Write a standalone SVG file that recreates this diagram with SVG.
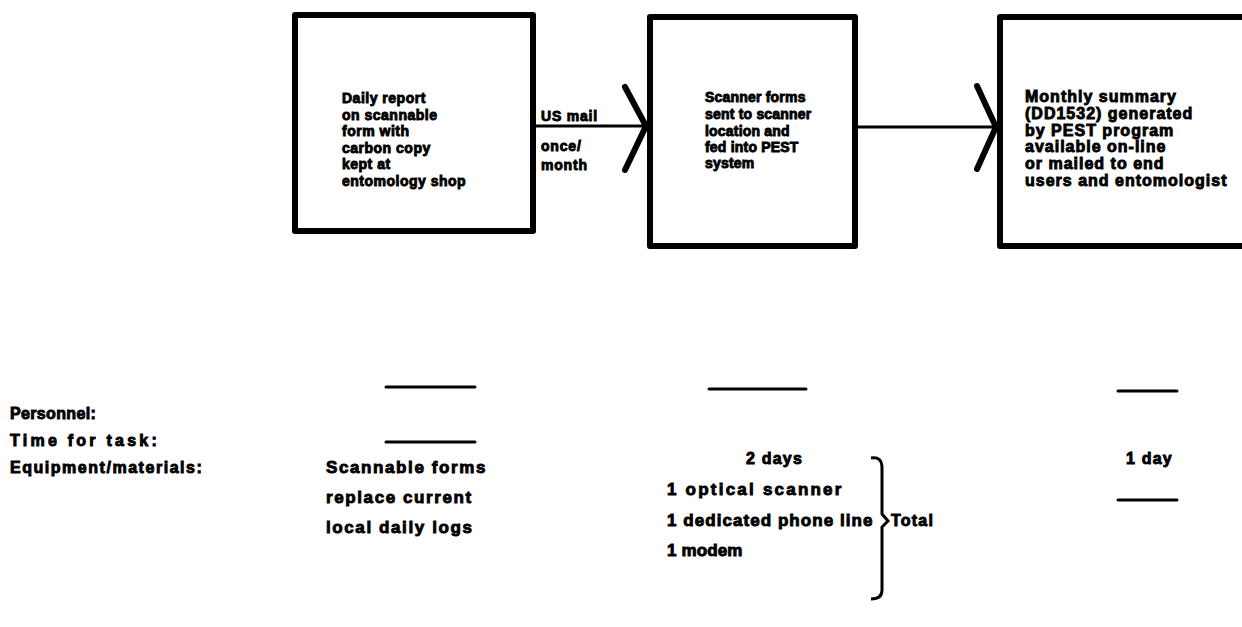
<svg xmlns="http://www.w3.org/2000/svg" width="1242" height="627" viewBox="0 0 1242 627">
<style>
.box{fill:#fff;stroke:#000;stroke-width:6;stroke-linejoin:round}
.t{font-family:"Liberation Sans",Arial,sans-serif;font-weight:bold;fill:#000;stroke:#000;stroke-width:0.9}
.b1{font-size:14px;letter-spacing:0.5px}
.b2{font-size:14px;letter-spacing:0.2px}
.b3{font-size:16px;letter-spacing:1px}
.lb{font-size:14px;letter-spacing:0.8px}
.bt{font-size:16px;letter-spacing:1.2px}
.bc{font-size:17px;letter-spacing:1.6px}
.line{stroke:#000;stroke-width:3;fill:none}
.chev{stroke:#000;stroke-width:6;fill:none;stroke-linecap:round;stroke-linejoin:miter}
.dash{stroke:#000;stroke-width:3;stroke-linecap:round}
</style>
<rect width="1242" height="627" fill="#fff"/>
<g id="connectors">
<line class="line" x1="534" y1="126" x2="646" y2="126"/>
<polyline class="chev" points="625,87 646,126 625,170"/>
<line class="line" x1="856" y1="127" x2="997" y2="127"/>
<polyline class="chev" points="977,86 996,127 977,169"/>
<g id="conn-label">
<text class="t lb" x="541" y="121">US mail</text>
<text class="t lb" x="541" y="151">once/</text>
<text class="t lb" x="541" y="170">month</text>
</g>
</g>
<g id="node-daily-report">
<rect class="box" x="295" y="15" width="238" height="216"/>
<text class="t b1" x="342"><tspan x="342" y="103">Daily report</tspan><tspan x="342" y="120">on scannable</tspan><tspan x="342" y="136">form with</tspan><tspan x="342" y="153">carbon copy</tspan><tspan x="342" y="169">kept at</tspan><tspan x="342" y="186">entomology shop</tspan></text>
</g>
<g id="node-scanner">
<rect class="box" x="650" y="17" width="205" height="229"/>
<text class="t b2" x="705"><tspan x="705" y="102">Scanner forms</tspan><tspan x="705" y="119">sent to scanner</tspan><tspan x="705" y="136">location and</tspan><tspan x="705" y="152">fed into PEST</tspan><tspan x="705" y="168">system</tspan></text>
</g>
<g id="node-monthly-summary">
<rect class="box" x="1000" y="17" width="270" height="229"/>
<text class="t b3" x="1025"><tspan x="1025" y="102">Monthly summary</tspan><tspan x="1025" y="119">(DD1532) generated</tspan><tspan x="1025" y="136">by PEST program</tspan><tspan x="1025" y="152">available on-line</tspan><tspan x="1025" y="169">or mailed to end</tspan><tspan x="1025" y="186">users and entomologist</tspan></text>
</g>
<g id="row-labels">
<text class="t bt" x="10" y="419" textLength="87">Personnel:</text>
<text class="t bt" x="10" y="446" textLength="148">Time for task:</text>
<text class="t bt" x="10" y="473" textLength="193">Equipment/materials:</text>
</g>
<g id="col-1">
<line class="dash" x1="386" y1="387" x2="475" y2="387"/>
<line class="dash" x1="386" y1="442" x2="475" y2="442"/>
<text class="t bc" x="326" y="473">Scannable forms</text>
<text class="t bc" x="326" y="503">replace current</text>
<text class="t bc" x="326" y="533">local daily logs</text>
</g>
<g id="col-2">
<line class="dash" x1="709" y1="389" x2="806" y2="389"/>
<text class="t bt" x="746" y="464">2 days</text>
<text class="t bc" x="667" y="495" textLength="176">1 optical scanner</text>
<text class="t bc" x="667" y="526" textLength="207">1 dedicated phone line</text>
<text class="t bc" x="667" y="556" textLength="77">1 modem</text>
<path d="M871,458 Q882,456 882,468 L882,514 L888,521 L882,527 L882,590 Q882,599 871,599" fill="none" stroke="#000" stroke-width="3"/>
<text class="t bt" x="891" y="526">Total</text>
</g>
<g id="col-3">
<line class="dash" x1="1118" y1="391" x2="1177" y2="391"/>
<text class="t bt" x="1126" y="464">1 day</text>
<line class="dash" x1="1118" y1="500" x2="1177" y2="500"/>
</g>
</svg>
